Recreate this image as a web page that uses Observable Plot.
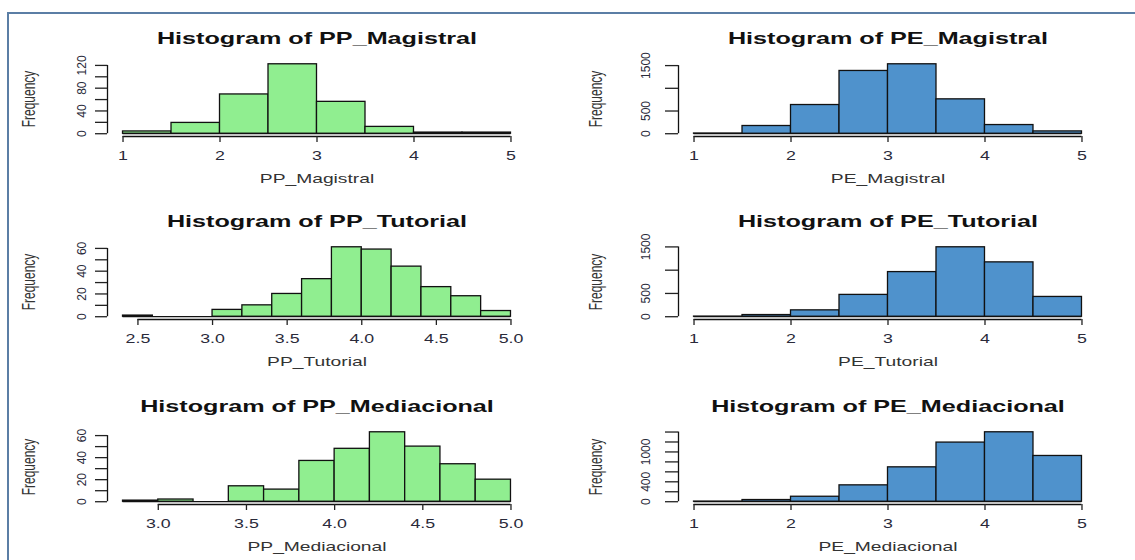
<!DOCTYPE html>
<html>
<head>
<meta charset="utf-8">
<script src="https://cdn.jsdelivr.net/npm/d3@7"></script>
<script src="https://cdn.jsdelivr.net/npm/@observablehq/plot@0.6"></script>
<style>
  html, body { margin: 0; padding: 0; background: #fff; }
  #root { position: relative; width: 1135px; height: 560px; overflow: hidden; background: #fff; }
  #frame { position: absolute; left: 7px; top: 12px; width: 1200px; height: 600px;
           border-left: 2px solid #5b7ea5; border-top: 2px solid #5b7ea5; }
  .panel { position: absolute; }
  .panel svg { overflow: visible; }
</style>
</head>
<body>
<div id="root"><div id="frame"></div></div>
<script>
// ---- data ----
const halfBreaks = [1, 1.5, 2, 2.5, 3, 3.5, 4, 4.5, 5];
const tutBreaks = [2.4, 2.6, 2.8, 3.0, 3.2, 3.4, 3.6, 3.8, 4.0, 4.2, 4.4, 4.6, 4.8, 5.0];
const medBreaks = [2.8, 3.0, 3.2, 3.4, 3.6, 3.8, 4.0, 4.2, 4.4, 4.6, 4.8, 5.0];

const ppMagistralCounts = [4, 19, 69, 122, 56, 12, 2, 2];
const peMagistralCounts = [5, 170, 632, 1382, 1529, 757, 191, 51];
const ppTutorialCounts = [1, 0, 0, 6, 10, 20, 33, 61, 59, 44, 26, 18, 5];
const peTutorialCounts = [3, 36, 137, 469, 959, 1492, 1168, 425];
const ppMediacionalCounts = [1, 2, 0, 14, 11, 37, 48, 63, 50, 34, 20];
const peMediacionalCounts = [3, 34, 100, 329, 691, 1188, 1395, 919];

const intXTicks = [1, 2, 3, 4, 5];
const tutXTicks = [2.5, 3.0, 3.5, 4.0, 4.5, 5.0];
const medXTicks = [3.0, 3.5, 4.0, 4.5, 5.0];

const yTicks120 = [0, 20, 40, 60, 80, 100, 120];
const yLabels120 = [0, 40, 80, 120];
const yTicks1500 = [0, 500, 1000, 1500];
const yLabels1500 = [0, 500, 1500];
const yTicks60 = [0, 10, 20, 30, 40, 50, 60];
const yLabels60 = [0, 20, 40, 60];
const yTicks1400 = [0, 200, 400, 600, 800, 1000, 1200, 1400];
const yLabels1400 = [0, 400, 1000];

const green = "#90ee90";
const blue = "#4f92cc";

const panels = [
  {title: "Histogram of PP_Magistral", xlabel: "PP_Magistral", breaks: halfBreaks, counts: ppMagistralCounts,
   xTicks: intXTicks, xFmt: d3.format("d"), yTicks: yTicks120, yLabels: yLabels120, fill: green, col: 0, row: 0},
  {title: "Histogram of PE_Magistral", xlabel: "PE_Magistral", breaks: halfBreaks, counts: peMagistralCounts,
   xTicks: intXTicks, xFmt: d3.format("d"), yTicks: yTicks1500, yLabels: yLabels1500, fill: blue, col: 1, row: 0},
  {title: "Histogram of PP_Tutorial", xlabel: "PP_Tutorial", breaks: tutBreaks, counts: ppTutorialCounts,
   xTicks: tutXTicks, xFmt: d3.format(".1f"), yTicks: yTicks60, yLabels: yLabels60, fill: green, col: 0, row: 1},
  {title: "Histogram of PE_Tutorial", xlabel: "PE_Tutorial", breaks: halfBreaks, counts: peTutorialCounts,
   xTicks: intXTicks, xFmt: d3.format("d"), yTicks: yTicks1500, yLabels: yLabels1500, fill: blue, col: 1, row: 1},
  {title: "Histogram of PP_Mediacional", xlabel: "PP_Mediacional", breaks: medBreaks, counts: ppMediacionalCounts,
   xTicks: medXTicks, xFmt: d3.format(".1f"), yTicks: yTicks60, yLabels: yLabels60, fill: green, col: 0, row: 2},
  {title: "Histogram of PE_Mediacional", xlabel: "PE_Mediacional", breaks: halfBreaks, counts: peMediacionalCounts,
   xTicks: intXTicks, xFmt: d3.format("d"), yTicks: yTicks1400, yLabels: yLabels1400, fill: blue, col: 1, row: 2}
];

// ---- layout ----
const regionLefts = [107, 678];
const regionTops = [60.5, 244.1, 429.1];
const regionW = 419, regionH = 75;
const mL = 100, mR = 20, mT = 40, mB = 60;
const tickLen = [12, 13];
const yLabOff = [25, 32];
const freqOff = [78, 82];
const font = "'Liberation Sans', Arial, sans-serif";
const stretch = 1.48;

const root = document.getElementById("root");

for (const p of panels) {
  const b0 = p.breaks[0], bN = p.breaks[p.breaks.length - 1];
  const r = bN - b0;
  const max = d3.max(p.counts);
  const xmin = b0 - 0.04 * r, xmax = bN + 0.04 * r;
  const ymin = -0.04 * max, ymax = 1.04 * max;
  const bins = p.counts.map((c, i) => ({x1: p.breaks[i], x2: p.breaks[i + 1], count: c}));
  const c = p.col;

  const chart = Plot.plot({
    width: mL + regionW + mR,
    height: mT + regionH + mB,
    marginLeft: mL, marginRight: mR, marginTop: mT, marginBottom: mB,
    x: {domain: [xmin, xmax]},
    y: {domain: [ymin, ymax]},
    style: {fontFamily: font, background: "transparent", overflow: "visible"},
    marks: [
      Plot.rect(bins, {x1: "x1", x2: "x2", y1: () => 0, y2: "count", fill: p.fill, stroke: "#111", strokeWidth: 1.3}),
      Plot.ruleY([0], {x1: b0, x2: bN, stroke: "#111", strokeWidth: 1.3}),
      // y axis
      Plot.ruleX([xmin], {y1: 0, y2: p.yTicks[p.yTicks.length - 1], stroke: "#111", strokeWidth: 1.3}),
      Plot.axisY({ticks: p.yTicks, tickSize: tickLen[c], tickFormat: () => "", label: null, stroke: "#222", strokeWidth: 1.3}),
      Plot.text(p.yLabels, {x: () => xmin, y: d => d, text: d => String(d), rotate: -90, dx: -yLabOff[c],
        fontSize: 12, fill: "#2a2a3a", textAnchor: "middle", lineAnchor: "middle"}),
      // x axis
      Plot.ruleY([ymin], {x1: p.xTicks[0], x2: p.xTicks[p.xTicks.length - 1], stroke: "#111", strokeWidth: 1.3}),
      Plot.axisX({ticks: p.xTicks, tickSize: 6, tickFormat: () => "", label: null, stroke: "#222", strokeWidth: 1.3}),
      Plot.text(p.xTicks, {x: d => d, y: () => ymin, dy: 20, text: d => p.xFmt(d),
        fontSize: 12, fill: "#2a2a3a", lineAnchor: "middle"}),
      // labels
      Plot.text([p.title], {frameAnchor: "top", dy: -22.5, fontSize: 17, fontWeight: "bold", fill: "#111", lineAnchor: "middle"}),
      Plot.text([p.xlabel], {frameAnchor: "bottom", dy: 42.5, fontSize: 13, fill: "#333", lineAnchor: "middle"}),
      Plot.text(["Frequency"], {frameAnchor: "left", dx: -freqOff[c], rotate: -90, fontSize: 12, fill: "#333",
        textAnchor: "middle", lineAnchor: "middle"})
    ]
  });

  const div = document.createElement("div");
  div.className = "panel";
  div.style.left = (regionLefts[c] - mL) + "px";
  div.style.top = (regionTops[p.row] - mT) + "px";
  div.appendChild(chart);
  root.appendChild(div);

  // widen texts to match the horizontally stretched look of the original
  chart.querySelectorAll("text").forEach(t => {
    const txt = t.textContent.trim();
    if (!txt) return;
    const tr = t.getAttribute("transform") || "";
    if (tr.includes("rotate")) {
      if (txt === "Frequency") t.setAttribute("transform", tr + " scale(1,1.5)");
      return;
    }
    const L = t.getComputedTextLength();
    t.setAttribute("textLength", (L * stretch).toFixed(1));
    t.setAttribute("lengthAdjust", "spacingAndGlyphs");
  });
}
</script>
</body>
</html>
